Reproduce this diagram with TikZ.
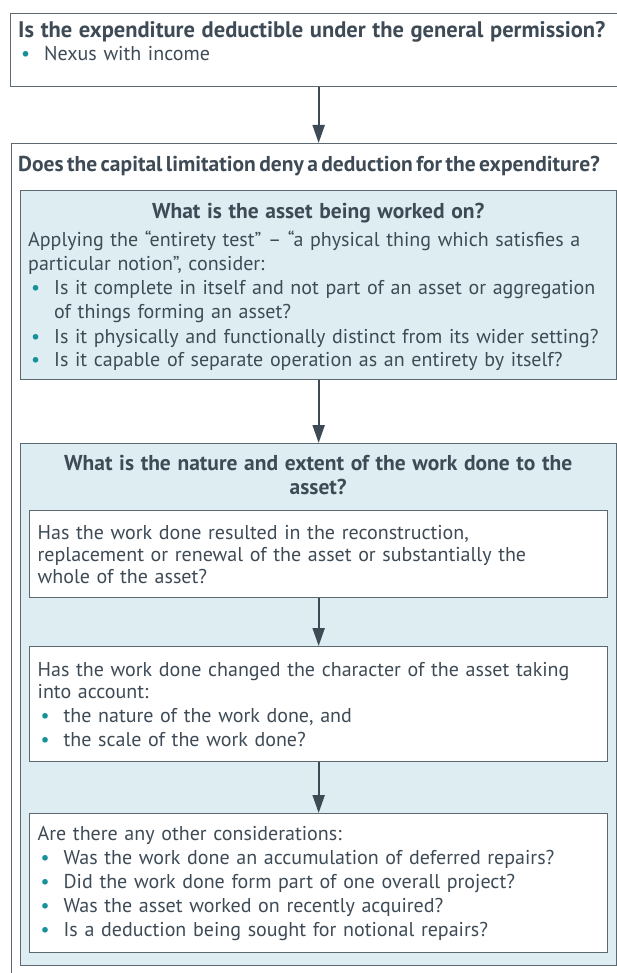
\documentclass[tikz,border=0pt]{standalone}
\usepackage{fontspec}
\setmainfont{PT Sans}
\usetikzlibrary{arrows.meta,positioning}
\definecolor{ink}{HTML}{3E4B56}
\definecolor{rule}{HTML}{5C6872}
\definecolor{pale}{HTML}{DEEDF1}
\definecolor{dot}{HTML}{17909A}
% bullet and hanging indent for list lines
\newcommand{\bul}{\makebox[26pt][l]{\hspace{3pt}\textcolor{dot}{•}}}
\newcommand{\hang}{\hspace*{26pt}}
\newcommand{\hd}{\fontsize{21.5}{24}\selectfont\bfseries}

\begin{document}
\begin{tikzpicture}[x=1pt,y=-1pt,font=\fontsize{20}{24}\selectfont,text=ink,
      frame/.style={draw=rule,line width=1.3pt,anchor=north west,inner sep=0pt},
      txt/.style={anchor=base west,align=left,inner sep=0pt,text width=640pt},
      card/.style={frame,fill=white,text width=562pt,inner xsep=8pt,
                   align=left,minimum width=578pt},
      flow/.style={-{Triangle[length=18pt,width=12pt]},draw=ink,line width=2pt}]
    \useasboundingbox (0,0) rectangle (616,973);

    % general permission
    \node[frame,fill=white,minimum width=616pt,minimum height=73pt] (gen) at (10,13) {};
    \node[txt] (gen-txt) at (18,38)
      {{\fontsize{22.5}{25}\selectfont\bfseries
        Is the expenditure deductible under the general permission?}\\[-1pt]
       \bul Nexus with income};

    % capital limitation, runs off the page at the bottom
    \node[frame,fill=white,minimum width=614pt,minimum height=850pt] (cap) at (11,143) {};
    \node[txt] (cap-txt) at (18,172)
      {\hd\spaceskip=0.16em
       Does the capital limitation deny a deduction for the expenditure?};

    \node[frame,fill=pale,minimum width=596pt,minimum height=189pt] (asset) at (20,190) {};
    \node[txt,text width=580pt] (asset-txt) at (28,219)
      {\makebox[\linewidth]{\hd What is the asset being worked on?}\\[4pt]
       Applying the “entirety test” – “a physical thing which satisfies a\\
       particular notion”, consider:\\
       \bul Is it complete in itself and not part of an asset or aggregation\\
       \hang of things forming an asset?\\
       \bul Is it physically and functionally distinct from its wider setting?\\
       \bul Is it capable of separate operation as an entirety by itself?};

    \node[frame,fill=pale,minimum width=596pt,minimum height=522pt] (work) at (20,443) {};
    \node[txt,text width=580pt,align=center] (work-txt) at (28,470)
      {\hd What is the nature and extent of the work done to the\\ asset?};

    \node[card,minimum height=87pt] (rebuild) at (29,510)
      {Has the work done resulted in the reconstruction,\\[-2pt]
       replacement or renewal of the asset or substantially the\\[-2pt]
       whole of the asset?};
    \node[card,minimum height=115pt] (change) at (29,646)
      {Has the work done changed the character of the asset taking\\[-2pt]
       into account:\\
       \bul the nature of the work done, and\\
       \bul the scale of the work done?};
    \node[card,minimum height=139pt] (other) at (29,813)
      {Are there any other considerations:\\
       \bul Was the work done an accumulation of deferred repairs?\\
       \bul Did the work done form part of one overall project?\\
       \bul Was the asset worked on recently acquired?\\
       \bul Is a deduction being sought for notional repairs?};

    \draw[flow] (gen.south) -- (cap.north);
    \draw[flow] (asset.south) -- (work.north);
    \draw[flow] (rebuild) -- (change);
    \draw[flow] (change) -- (other);
  \end{tikzpicture}
\end{document}
